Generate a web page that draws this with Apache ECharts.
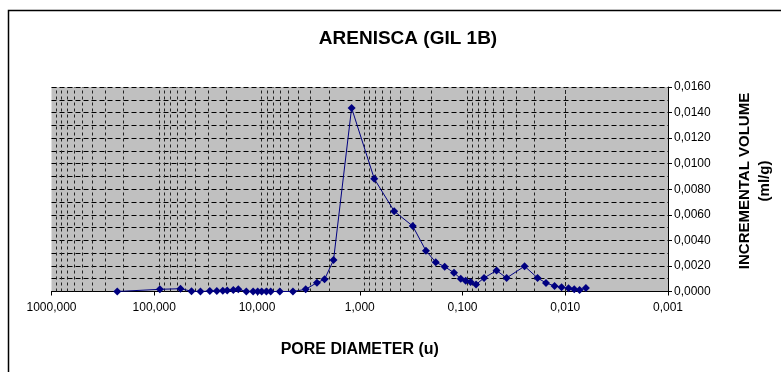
<!DOCTYPE html>
<html>
<head>
<meta charset="utf-8">
<script src="https://cdn.jsdelivr.net/npm/echarts@6/dist/echarts.min.js"></script>
<style>html,body{margin:0;padding:0;background:#fff;}#c{width:781px;height:372px;}</style>
</head>
<body>
<div id="c"></div>
<script>
var poreDiameter = [229, 88.2, 55.5, 43.4, 35.5, 28.8, 24.6, 21.5, 19.5, 17.0, 15.2, 12.7, 10.9, 9.85, 9.0, 8.1, 7.36, 6.0, 4.47, 3.36, 2.61, 2.20, 1.80, 1.20, 0.723, 0.462, 0.305, 0.227, 0.182, 0.149, 0.121, 0.104, 0.0931, 0.0834, 0.0738, 0.0617, 0.0466, 0.0372, 0.0249, 0.0186, 0.0154, 0.0127, 0.01086, 0.00929, 0.00817, 0.00726, 0.0063];
var incVolume = [0.0000, 0.00017, 0.00022, 0.00002, 0.0000, 0.00003, 0.00003, 0.00005, 0.00008, 0.00012, 0.00017, 0.0000, 0.0000, 0.0000, 0.0000, 0.0000, 0.0000, 0.0000, 0.0000, 0.00017, 0.00069, 0.00095, 0.00246, 0.01436, 0.00883, 0.00628, 0.00512, 0.00319, 0.00229, 0.00194, 0.00147, 0.0010, 0.00085, 0.00074, 0.00055, 0.00106, 0.00164, 0.00106, 0.00198, 0.00106, 0.00067, 0.00043, 0.00033, 0.00025, 0.00017, 0.00012, 0.00027];
var titleText = 'ARENISCA (GIL 1B)';
var xName = 'PORE DIAMETER (u)';
var yName = 'INCREMENTAL VOLUME\n(ml/g)';

var pts = poreDiameter.map(function(d, i){ return [d, incVolume[i]]; });
var vlines = [];
for (var e = -3; e < 3; e++) {
  for (var m = 2; m <= 9; m++) vlines.push({xAxis: m * Math.pow(10, e)});
}
var chart = echarts.init(document.getElementById('c'));
chart.setOption({
  animation: false,
  backgroundColor: '#fff',
  textStyle: {fontFamily: 'Liberation Sans, Arial, sans-serif'},
  title: {text: titleText, left: 403, top: 24, textAlign: 'center',
    textStyle: {fontSize: 19, fontWeight: 'bold', color: '#000', fontFamily: 'Liberation Sans, Arial'}},
  grid: {left: 51.5, right: 113, top: 87, bottom: 80.5, show: true, backgroundColor: '#C0C0C0', borderWidth: 0},
  xAxis: {
    type: 'log', logBase: 10, min: 0.001, max: 1000, inverse: true, splitNumber: 6,
    name: xName, nameLocation: 'middle', nameGap: 50,
    nameTextStyle: {fontSize: 16, fontWeight: 'bold', color: '#000'},
    axisLine: {lineStyle: {color: '#000', width: 1}},
    axisTick: {show: true, length: 4, lineStyle: {color: '#000'}},
    axisLabel: {color: '#000', fontSize: 12, margin: 10,
      formatter: function(v){ return v.toFixed(3).replace('.', ','); }},
    splitLine: {show: false}
  },
  yAxis: {
    type: 'value', position: 'right', min: 0, max: 0.016, interval: 0.002,
    axisLine: {show: true, lineStyle: {color: '#000'}},
    axisTick: {show: true, length: 4, lineStyle: {color: '#000'}},
    axisLabel: {color: '#000', fontSize: 12, margin: 6,
      formatter: function(v){ return v.toFixed(4).replace('.', ','); }},
    splitLine: {show: true, lineStyle: {color: '#000', type: [5, 3], width: 1}},
    minorSplitLine: {show: true, lineStyle: {color: '#000', type: [5, 3], width: 1}},
    minorTick: {show: false, splitNumber: 2}
  },
  graphic: [
    {type: 'rect', shape: {x: 8.5, y: 10.5, width: 900, height: 500}, style: {fill: null, stroke: '#000', lineWidth: 1.5}, z: 100},
    {type: 'text', x: 755, y: 181, rotation: Math.PI / 2,
      style: {text: yName, font: 'bold 15px "Liberation Sans", Arial', fill: '#000', textAlign: 'center', textVerticalAlign: 'middle', lineHeight: 20}}
  ],
  series: [
    {type: 'line', data: [], silent: true,
      markLine: {symbol: 'none', silent: true, label: {show: false},
        lineStyle: {color: '#222', type: [3, 3], width: 1}, data: vlines}},
    {type: 'line', data: pts, symbol: 'diamond', symbolSize: 8,
      lineStyle: {color: '#000080', width: 1}, itemStyle: {color: '#000080'}, z: 5}
  ]
});
</script>
</body>
</html>
